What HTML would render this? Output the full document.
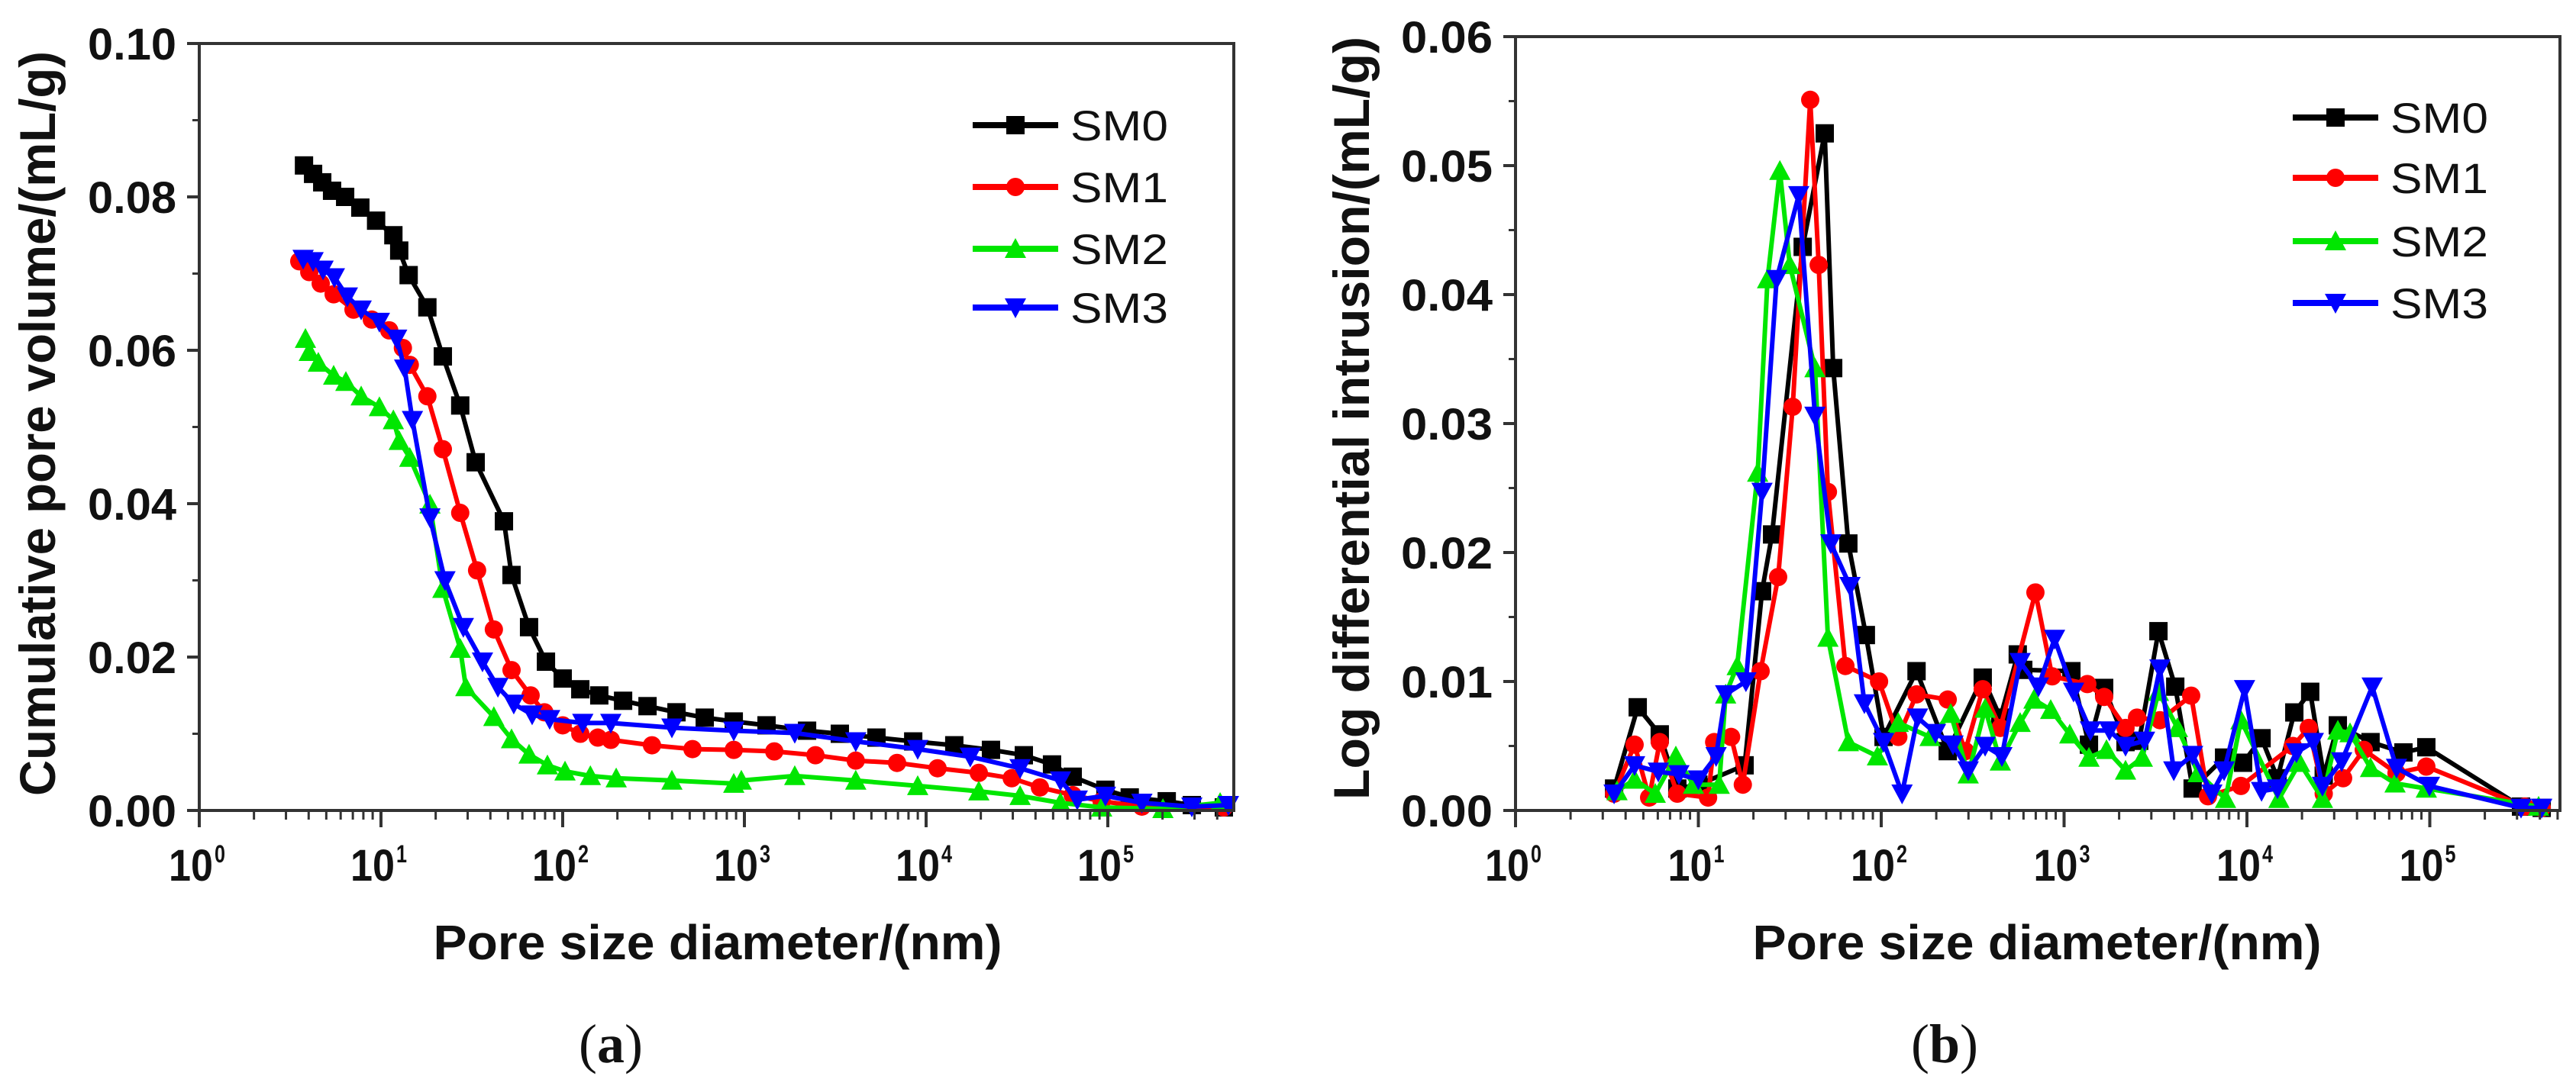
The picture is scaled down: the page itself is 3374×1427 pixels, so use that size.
<!DOCTYPE html>
<html><head><meta charset="utf-8"><style>
html,body{margin:0;padding:0;background:#fff;}
svg{display:block;}
text{font-family:"Liberation Sans",sans-serif;fill:#111;}
</style></head><body>
<svg id="fig" width="3374" height="1427" viewBox="0 0 3374 1427" xmlns="http://www.w3.org/2000/svg">
<g id="chartA"></g>
<g id="chartB"></g>
</svg>
<script>
// ---------- Chart (a) data ----------
const aSeriesNames = ["SM0","SM1","SM2","SM3"];
const aSM0x = [3.77,4.23,4.75,5.38,6.35,7.7,9.4,11.7,12.6,14.2,18.0,21.9,27.3,33.2,47.5,52.3,65.3,80.9,100,125,159,215,293,423,605,874,1324,2213,3352,5330,8493,14290,22750,34500,49300,64100,97000,132000,211000,290000,435000];
const aSM0y = [0.0841,0.0830,0.0819,0.0808,0.0800,0.0786,0.0769,0.0750,0.0730,0.0698,0.0656,0.0592,0.0528,0.0454,0.0377,0.0307,0.0239,0.0194,0.0172,0.0158,0.0150,0.0143,0.0136,0.0128,0.0121,0.0116,0.0111,0.0104,0.0100,0.0095,0.0090,0.0085,0.0079,0.0072,0.0060,0.0044,0.0027,0.0017,0.0012,0.0007,0.0004];
const aSM1x = [3.55,4.03,4.66,5.49,7.06,8.9,11.1,13.2,14.4,18.0,21.9,27.3,33.8,41.8,52.3,66.6,79.3,100,125,156,184,310,518,874,1460,2460,4100,6920,11560,19500,29600,42300,64100,92500,154000,435000];
const aSM1y = [0.0716,0.0702,0.0687,0.0673,0.0653,0.0640,0.0626,0.0603,0.0581,0.0540,0.0471,0.0388,0.0313,0.0236,0.0183,0.0150,0.0128,0.0111,0.0100,0.0095,0.0092,0.0085,0.0080,0.0079,0.0077,0.0072,0.0065,0.0062,0.0055,0.0049,0.0042,0.0030,0.0020,0.0012,0.0005,0.0004];
const aSM2x = [3.84,4.03,4.52,5.49,6.41,7.78,9.8,11.7,12.6,14.4,18.6,21.9,27.3,29.3,41.8,52.3,65.3,82.4,103,142,197,399,874,962,1893,4100,8990,19500,32900,54900,92500,201000,415000];
const aSM2y = [0.0615,0.0598,0.0584,0.0567,0.0559,0.0540,0.0526,0.0509,0.0482,0.0460,0.0399,0.0289,0.0211,0.0161,0.0122,0.0093,0.0073,0.0059,0.0051,0.0045,0.0042,0.0039,0.0035,0.0039,0.0045,0.0039,0.0032,0.0025,0.0019,0.0010,0.0004,0.0002,0.0010];
const aSM3x = [3.73,4.23,4.8,5.54,6.53,7.78,9.8,12.2,13.5,14.9,18.6,22.5,28.4,36.2,44,53.8,67.9,84.8,129,184,399,874,1893,4100,8990,17500,32900,54900,67900,97000,154000,290000,461000];
const aSM3y = [0.0719,0.0716,0.0705,0.0695,0.0670,0.0653,0.0637,0.0615,0.0576,0.0509,0.0382,0.0300,0.0239,0.0194,0.0161,0.0139,0.0125,0.0119,0.0114,0.0114,0.0108,0.0104,0.0101,0.0090,0.0080,0.0070,0.0055,0.0039,0.0014,0.0019,0.0010,0.0005,0.0007];
const aYTicks = ["0.00","0.02","0.04","0.06","0.08","0.10"];
const aYTickValues = [0,0.02,0.04,0.06,0.08,0.10];

// ---------- Chart (b) data ----------
const bSM0x = [3.46,4.66,6.15,7.67,10.0,17.9,22.3,25.3,37.2,49.1,54.6,66.1,82.4,103,156,231,359,448,558,598,1096,1368,1656,2168,2576,3281,4055,5047,7499,9528,12020,14690,18160,22180,26300,31410,47420,71780,95720,315500,409300];
const bSM0y = [0.0017,0.0080,0.0059,0.0017,0.0020,0.0035,0.0170,0.0214,0.0437,0.0525,0.0343,0.0207,0.0136,0.0057,0.0108,0.0046,0.0103,0.0072,0.0121,0.0109,0.0108,0.0051,0.0095,0.0053,0.0054,0.0139,0.0096,0.0017,0.0041,0.0037,0.0056,0.0025,0.0076,0.0092,0.0027,0.0066,0.0053,0.0045,0.0049,0.0003,0.0002];
const bSM1x = [3.46,4.48,5.38,6.15,7.67,11.3,12.2,15.1,17.5,21.9,27.3,32.8,40.9,45.5,51.1,63.7,97.3,124,156,231,288,359,448,697,861,1340,1656,2168,2506,3342,4955,6124,9268,17820,21780,26300,33570,43550,65770,95720,331100,409300];
const bSM1y = [0.0013,0.0051,0.0010,0.0053,0.0013,0.0010,0.0053,0.0057,0.0020,0.0108,0.0181,0.0313,0.0551,0.0423,0.0247,0.0112,0.0100,0.0057,0.0090,0.0086,0.0046,0.0094,0.0064,0.0169,0.0104,0.0098,0.0088,0.0064,0.0072,0.0070,0.0089,0.0011,0.0019,0.0050,0.0064,0.0013,0.0025,0.0047,0.0029,0.0034,0.0003,0.0002];
const bSM2x = [3.59,4.48,5.81,7.53,9.4,13.0,14.1,16.3,21.1,23.9,27.9,31.6,43.4,51.1,66.1,95.3,124,185,240,299,370,448,575,684,845,1074,1368,1706,2168,2679,3281,4169,5408,7638,9268,14960,19410,25880,31410,36640,47420,64570,95720,393600];
const bSM2y = [0.0015,0.0024,0.0013,0.0042,0.0020,0.0020,0.0090,0.0112,0.0262,0.0412,0.0496,0.0423,0.0343,0.0134,0.0053,0.0042,0.0068,0.0057,0.0075,0.0028,0.0079,0.0038,0.0068,0.0086,0.0078,0.0059,0.0041,0.0047,0.0031,0.0041,0.0092,0.0064,0.0029,0.0009,0.0070,0.0009,0.0037,0.0009,0.0062,0.0060,0.0033,0.0021,0.0017,0.0003];
const bSM3x = [3.46,4.48,6.04,7.83,10.0,12.5,14.1,18.2,22.3,26.8,35.4,43.4,53.0,67.5,80.9,103,130,158,198,247,299,370,457,575,724,887,1127,1393,1770,2168,2754,3342,3981,5047,6427,7499,9705,12020,14690,18660,23070,25880,32960,48420,65770,99540,315500,409300];
const bSM3y = [0.0013,0.0035,0.0030,0.0028,0.0024,0.0042,0.0090,0.0100,0.0247,0.0412,0.0477,0.0306,0.0207,0.0174,0.0083,0.0053,0.0013,0.0072,0.0060,0.0051,0.0031,0.0050,0.0042,0.0115,0.0096,0.0133,0.0092,0.0062,0.0062,0.0050,0.0054,0.0110,0.0031,0.0043,0.0013,0.0031,0.0094,0.0015,0.0017,0.0045,0.0053,0.0019,0.0038,0.0096,0.0033,0.0019,0.0002,0.0002];
const bYTicks = ["0.00","0.01","0.02","0.03","0.04","0.05","0.06"];
const bYTickValues = [0,0.01,0.02,0.03,0.04,0.05,0.06];

const xDecades = [0,1,2,3,4,5];
const colors = ["#000000","#ff0000","#00e600","#0000ff"];
const markers = ["square","circle","triangle","tri-down"];

const NS = "http://www.w3.org/2000/svg";
function mk(tag, attrs, parent){
  const e = document.createElementNS(NS, tag);
  for (const k in attrs) e.setAttribute(k, attrs[k]);
  parent.appendChild(e);
  return e;
}
function marker(g, type, x, y, color){
  let e;
  const s = 12;
  if (type === "square") e = mk("rect", {x:x-s, y:y-s, width:2*s, height:2*s, fill:color}, g);
  else if (type === "circle") e = mk("circle", {cx:x, cy:y, r:s, fill:color}, g);
  else if (type === "triangle") e = mk("polygon", {points:`${x},${y-s-2} ${x-s-2},${y+s} ${x+s+2},${y+s}`, fill:color}, g);
  else e = mk("polygon", {points:`${x},${y+s+2} ${x-s-2},${y-s} ${x+s+2},${y-s}`, fill:color}, g);
  
  
  return e;
}

function drawChart(cfg){
  const g = document.getElementById(cfg.id);
  const L = cfg.L, R = cfg.R, T = cfg.T, B = cfg.B;
  const px = v => L + cfg.dec * Math.log10(v);
  const py = v => B - (v / cfg.ymax) * (B - T);

  cfg.series.forEach((s, i) => {
    const sg = mk("g", {}, g);
    
    
    const pts = s.x.map((xv, j) => px(xv).toFixed(1) + "," + py(s.y[j]).toFixed(1)).join(" ");
    const pl = mk("polyline", {points: pts, fill:"none", stroke: colors[i], "stroke-width": 6, "stroke-linejoin":"round"}, sg);
    
    
    s.x.forEach((xv, j) => marker(sg, markers[i], px(xv), py(s.y[j]), colors[i]));
  });

  const fr = mk("rect", {x:L, y:T, width:R-L, height:B-T, fill:"none", stroke:"#333", "stroke-width":4}, g);
  
  

  const xa = mk("g", {}, g);
  
  
  xDecades.forEach(d => {
    const x = L + cfg.dec * d;
    mk("line", {x1:x, y1:B, x2:x, y2:B+22, stroke:"#333", "stroke-width":4}, xa);
    for (let m = 2; m <= 9; m++) {
      const xm = x + cfg.dec * Math.log10(m);
      if (xm < R) mk("line", {x1:xm, y1:B, x2:xm, y2:B+12, stroke:"#333", "stroke-width":3}, xa);
    }
    const t = mk("text", {x:x+18, y:B+92, "font-size":58, "font-weight":"bold", "text-anchor":"end", textLength:58, lengthAdjust:"spacingAndGlyphs"}, xa);
    t.textContent = "10";
    
    
    const sp = mk("text", {x:x+20, y:B+68, "font-size":32, "font-weight":"bold", textLength:14, lengthAdjust:"spacingAndGlyphs"}, xa);
    sp.textContent = String(d);
    
    
  });

  const ya = mk("g", {}, g);
  
  
  cfg.yTickValues.forEach((v, i) => {
    const y = py(v);
    mk("line", {x1:L-16, y1:y, x2:L, y2:y, stroke:"#333", "stroke-width":4}, ya);
    if (i < cfg.yTickValues.length - 1) {
      const ym = py((v + cfg.yTickValues[i+1]) / 2);
      mk("line", {x1:L-9, y1:ym, x2:L, y2:ym, stroke:"#333", "stroke-width":3}, ya);
    }
    const t = mk("text", {x:L-30, y:y+21, "font-size":58, "font-weight":"bold", "text-anchor":"end", textLength:cfg.ylabW, lengthAdjust:"spacingAndGlyphs"}, ya);
    t.textContent = cfg.yTicks[i];
    
    
  });

  const xt = mk("text", {x:cfg.xTitleX, y:1257, "font-size":64, "font-weight":"bold", "text-anchor":"middle", textLength:745, lengthAdjust:"spacingAndGlyphs"}, g);
  xt.textContent = "Pore size diameter/(nm)";
  
  
  const yt = mk("text", {x:0, y:0, "font-size":66, "font-weight":"bold", "text-anchor":"middle", textLength:cfg.yTitleLen, lengthAdjust:"spacingAndGlyphs", transform:`translate(${cfg.yTitleX},${cfg.yTitleY}) rotate(-90)`}, g);
  yt.textContent = cfg.yTitle;
  
  

  const lg = mk("g", {}, g);
  
  
  cfg.series.forEach((s, i) => {
    const y = cfg.legY[i];
    const eg = mk("g", {}, lg);
    
    
    mk("line", {x1:cfg.legX, y1:y, x2:cfg.legX+112, y2:y, stroke:colors[i], "stroke-width":8}, eg);
    marker(eg, markers[i], cfg.legX+56, y, colors[i]);
    const t = mk("text", {x:cfg.legX+128, y:y+20, "font-size":56, textLength:128, lengthAdjust:"spacingAndGlyphs"}, eg);
    t.textContent = s.name;
  });

  const pl = mk("text", {x:cfg.panelX, y:1392, "font-size":72, "text-anchor":"middle", style:"font-family:'Liberation Serif',serif"}, g);
  pl.innerHTML = `(<tspan font-weight="bold">${cfg.panel}</tspan>)`;
  
  
}

drawChart({
  id:"chartA", L:261, R:1616, T:57, B:1062, dec:238, ymax:0.10,
  series:[{name:"SM0",x:aSM0x,y:aSM0y},{name:"SM1",x:aSM1x,y:aSM1y},{name:"SM2",x:aSM2x,y:aSM2y},{name:"SM3",x:aSM3x,y:aSM3y}],
  yTicks:aYTicks, yTickValues:aYTickValues, ylabW:116,
  xTitleX:940, yTitle:"Cumulative pore volume/(mL/g)", yTitleX:72, yTitleY:555, yTitleLen:976,
  legX:1274, legY:[164,245,326,403], panel:"a", panelX:800
});
drawChart({
  id:"chartB", L:1985, R:3353, T:48, B:1062, dec:239.5, ymax:0.06,
  series:[{name:"SM0",x:bSM0x,y:bSM0y},{name:"SM1",x:bSM1x,y:bSM1y},{name:"SM2",x:bSM2x,y:bSM2y},{name:"SM3",x:bSM3x,y:bSM3y}],
  yTicks:bYTicks, yTickValues:bYTickValues, ylabW:120,
  xTitleX:2668, yTitle:"Log differential intrusion/(mL/g)", yTitleX:1793, yTitleY:548, yTitleLen:1000,
  legX:3003, legY:[154,233,316,397], panel:"b", panelX:2547
});
</script>
</body></html>
